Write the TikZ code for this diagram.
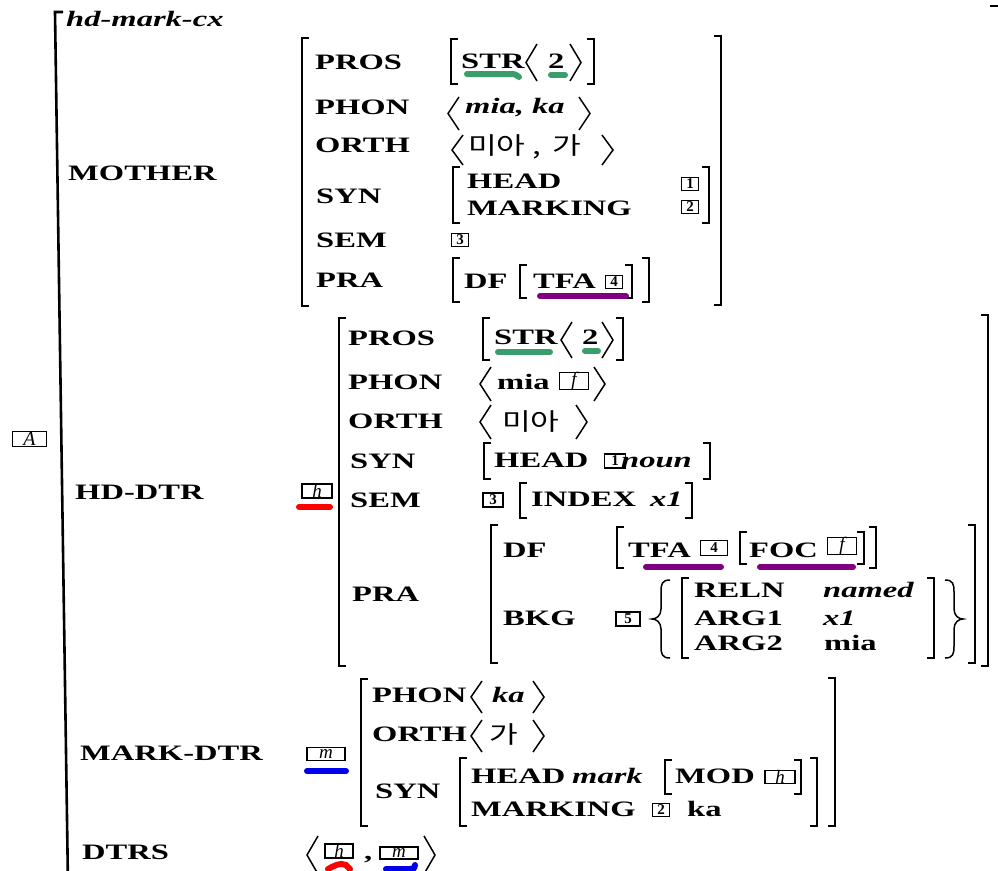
\documentclass[tikz,border=0pt]{standalone}
\usepackage{fontspec}
\newfontfamily\avm[FakeStretch=1.48]{Liberation Serif}
\newfontfamily\kor[FakeStretch=1.3]{Noto Sans CJK KR}
\newfontfamily\tagf{Liberation Serif}
\definecolor{grn}{RGB}{58,158,108}
\definecolor{prp}{RGB}{128,0,128}
\definecolor{rd}{RGB}{255,0,0}
\definecolor{bl}{RGB}{0,0,235}
% square brackets: x, top y, bottom y
\newcommand\avmL[3]{\draw[brk] ({#1+7},#2) -- (#1,#2) -- (#1,#3) -- ({#1+7},#3);}
\newcommand\avmR[3]{\draw[brk] ({#1-7},#2) -- (#1,#2) -- (#1,#3) -- ({#1-7},#3);}
% angle brackets: apex x, top y, bottom y
\newcommand\angL[3]{\draw[ang] ({#1+11},#2) -- (#1,{(#2+#3)/2}) -- ({#1+11},#3);}
\newcommand\angR[3]{\draw[ang] ({#1-11},#2) -- (#1,{(#2+#3)/2}) -- ({#1-11},#3);}
% curly braces: tip x, top y, bottom y
\newcommand\brcL[3]{\draw[ang] ({#1+18},#2) .. controls ({#1+10},#2) and ({#1+9},{#2+4}) .. ({#1+9},{#2+12}) -- ({#1+9},{(#2+#3)/2-10}) .. controls ({#1+9},{(#2+#3)/2-3}) and ({#1+4},{(#2+#3)/2}) .. (#1,{(#2+#3)/2}) .. controls ({#1+4},{(#2+#3)/2}) and ({#1+9},{(#2+#3)/2+3}) .. ({#1+9},{(#2+#3)/2+10}) -- ({#1+9},{#3-12}) .. controls ({#1+9},{#3-4}) and ({#1+10},#3) .. ({#1+18},#3);}
\newcommand\brcR[3]{\draw[ang] ({#1-18},#2) .. controls ({#1-10},#2) and ({#1-9},{#2+4}) .. ({#1-9},{#2+12}) -- ({#1-9},{(#2+#3)/2-10}) .. controls ({#1-9},{(#2+#3)/2-3}) and ({#1-4},{(#2+#3)/2}) .. (#1,{(#2+#3)/2}) .. controls ({#1-4},{(#2+#3)/2}) and ({#1-9},{(#2+#3)/2+3}) .. ({#1-9},{(#2+#3)/2+10}) -- ({#1-9},{#3-12}) .. controls ({#1-9},{#3-4}) and ({#1-10},#3) .. ({#1-18},#3);}
\begin{document}
\begin{tikzpicture}[x=1pt,y=-1pt,
  brk/.style={line width=2.6pt, line join=miter},
  ang/.style={line width=1.5pt, line join=miter},
  lab/.style={anchor=base west, inner sep=0pt, font=\avm\bfseries\fontsize{22}{26}\selectfont},
  itv/.style={anchor=base west, inner sep=0pt, font=\avm\bfseries\itshape\fontsize{22}{26}\selectfont},
  hang/.style={anchor=base west, inner sep=0pt, font=\kor\fontsize{24}{26}\selectfont},
  tg/.style={draw, line width=1.4pt, inner sep=0pt, minimum width=17pt, minimum height=13pt, font=\tagf\bfseries\fontsize{15}{15}\selectfont},
  tl/.style={draw, line width=1.4pt, inner sep=0pt, minimum width=30pt, minimum height=14pt, font=\tagf\itshape\fontsize{19}{19}\selectfont},
  ul/.style={line width=6pt, line cap=round},
]
\fill[white] (0,0) rectangle (998,870);
\useasboundingbox (0,0) rectangle (998,870);

% outermost matrix
\draw[brk] (63,12) -- (55,12) -- (68,885);
\draw[brk] (990,6) -- (1003,6) -- (1003,885);
\node[itv] (type) at (66,26) {hd-mark-cx};
\node[tl, minimum width=34pt, minimum height=15pt, font=\tagf\itshape\fontsize{20}{20}\selectfont] (tagA) at (29.5,439) {A};

% ---------- MOTHER ----------
\node[lab] (mother) at (68,180) {MOTHER};
\avmL{302}{38}{306}
\avmR{721}{36}{305}
\node[lab] (mpros) at (315,69) {PROS};
\node[lab] (mphon) at (315,114) {PHON};
\node[lab] (morth) at (315,152) {ORTH};
\node[lab] (msyn) at (316,203) {SYN};
\node[lab] (msem) at (316,247) {SEM};
\node[lab] (mpra) at (316,287) {PRA};

\avmL{451}{39}{84}
\node[lab] (mstr) at (461,68) {STR};
\angL{526}{44}{81}
\node[lab] (mtwo) at (548,68) {2};
\angR{581}{44}{81}
\avmR{594}{39}{84}
\draw[ul, grn] (467,74) -- (508,74) .. controls (515,74) .. (519,77);
\draw[ul, grn] (551,75) -- (565,75);

\angL{448}{97}{130}
\node[itv] (mphonv) at (465,113) {mia, ka};
\angR{590}{97}{130}

\angL{452}{135}{165}
\node[hang] (morthv) at (468,154) {미아 ,\, 가};
\angR{613}{135}{165}

\avmL{453}{167}{223}
\node[lab] (mhead) at (467,188) {HEAD};
\node[lab] (mmarking) at (467,215) {MARKING};
\node[tg] (mt1) at (690,184) {1};
\node[tg] (mt2) at (690,207) {2};
\avmR{709}{167}{223}

\node[tg] (mt3) at (460,240) {3};

\avmL{453}{258}{302}
\node[lab] (mdf) at (464,288) {DF};
\avmL{520}{265}{298}
\node[lab] (mtfa) at (533,288) {TFA};
\node[tg] (mt4) at (614,282) {4};
\avmR{632}{265}{298}
\avmR{649}{258}{302}
\draw[ul, prp] (540,296) -- (626,296);

% ---------- HD-DTR ----------
\node[lab] (hd) at (75,499) {HD-DTR};
\node[tl] (th) at (317,491) {h};
\draw[ul, rd] (299,507) -- (330,507);
\avmL{339}{318}{666}
\avmR{988}{315}{666}
\node[lab] (hpros) at (348,345) {PROS};
\node[lab] (hphon) at (348,389) {PHON};
\node[lab] (horth) at (348,428) {ORTH};
\node[lab] (hsyn) at (350,468) {SYN};
\node[lab] (hsem) at (350,507) {SEM};
\node[lab] (hpra) at (352,601) {PRA};

\avmL{483}{318}{360}
\node[lab] (hstr) at (494,344) {STR};
\angL{561}{322}{358}
\node[lab] (htwo) at (582,344) {2};
\angR{613}{322}{358}
\avmR{623}{318}{360}
\draw[ul, grn] (498,352) -- (550,352);
\draw[ul, grn] (585,351) -- (598,351);

\angL{480}{367}{401}
\node[lab] (hmia) at (497,389) {mia};
\node[tl, minimum width=29pt, minimum height=17pt] (hf) at (574,381) {f};
\angR{605}{367}{401}

\angL{480}{405}{439}
\node[hang] (horthv) at (502,430) {미아};
\angR{587}{405}{439}

\avmL{484}{443}{479}
\node[lab] (hhead) at (494,467) {HEAD};
\node[tg, minimum width=21pt, minimum height=14pt] (ht1) at (615,461) {1};
\node[itv] (hnoun) at (621,467) {noun};
\avmR{710}{443}{479}

\node[tg, minimum width=20pt, minimum height=14pt] (ht3) at (493,500) {3};
\avmL{520}{483}{518}
\node[lab] (hindex) at (531,506) {INDEX};
\node[itv] (hx) at (650,506) {x1};
\avmR{692}{483}{518}

\avmL{491}{525}{663}
\node[lab] (hdf) at (503,557) {DF};
\avmL{617}{527}{568}
\node[lab] (htfa) at (628,557) {TFA};
\node[tg, minimum width=27pt, minimum height=15pt] (ht4) at (714,548) {4};
\avmL{740}{532}{564}
\node[lab] (hfoc) at (749,557) {FOC};
\node[tl, minimum width=29pt, minimum height=17pt] (hf2) at (842,546) {f};
\avmR{864}{532}{564}
\avmR{876}{527}{568}
\draw[ul, prp] (646,567) -- (721,567);
\draw[ul, prp] (760,567) -- (853,567);

\node[lab] (hbkg) at (503,625) {BKG};
\node[tg, minimum width=24pt, minimum height=14pt] (ht5) at (628,619) {5};
\brcL{652}{580}{658}
\avmL{682}{578}{658}
\node[lab] (hreln) at (694,597) {RELN};
\node[lab] (harg1) at (694,625) {ARG1};
\node[lab] (harg2) at (694,650) {ARG2};
\node[itv] (hnamed) at (823,597) {named};
\node[itv] (hx2) at (823,625) {x1};
\node[lab] (hmia2) at (824,650) {mia};
\avmR{934}{578}{658}
\brcR{963}{580}{658}
\avmR{975}{525}{663}

% ---------- MARK-DTR ----------
\node[lab] (mk) at (80,760) {MARK-DTR};
\node[tl, minimum width=38pt, minimum height=13pt] (tm) at (326,754) {m};
\draw[ul, bl] (307,771) -- (346,771);
\avmL{361}{679}{826}
\avmR{835}{678}{826}
\node[lab] (kphon) at (372,702) {PHON};
\node[lab] (korth) at (372,741) {ORTH};
\node[lab] (ksyn) at (375,798) {SYN};

\angL{471}{681}{713}
\node[itv] (kka) at (492,702) {ka};
\angR{544}{681}{713}

\angL{471}{720}{752}
\node[hang] (korthv) at (489,743) {가};
\angR{544}{720}{752}

\avmL{460}{758}{826}
\node[lab] (khead) at (471,783) {HEAD};
\node[itv] (kmark) at (572,783) {mark};
\avmL{665}{760}{794}
\node[lab] (kmod) at (675,783) {MOD};
\node[tl, minimum width=30pt, minimum height=13pt] (kh) at (780,777) {h};
\avmR{801}{760}{794}
\node[lab] (kmarking) at (471,816) {MARKING};
\node[tg] (kt2) at (661,810) {2};
\node[lab] (kka2) at (687,816) {ka};
\avmR{817}{758}{826}

% ---------- DTRS ----------
\node[lab] (dtrs) at (82,859) {DTRS};
\angL{307}{836}{874}
\node[tl, minimum width=28pt, minimum height=14pt] (dh) at (339,851) {h};
\node[lab] (dcomma) at (364,859) {,};
\node[tl, minimum width=38pt, minimum height=12pt] (dm) at (399,853) {m};
\angR{435}{836}{874}
\draw[ul, rd] (328,869) .. controls (334,866) and (340,862) .. (346,865) -- (350,869);
\draw[ul, bl] (386,869) -- (409,869) .. controls (414,869) .. (415,865);
\end{tikzpicture}
\end{document}
